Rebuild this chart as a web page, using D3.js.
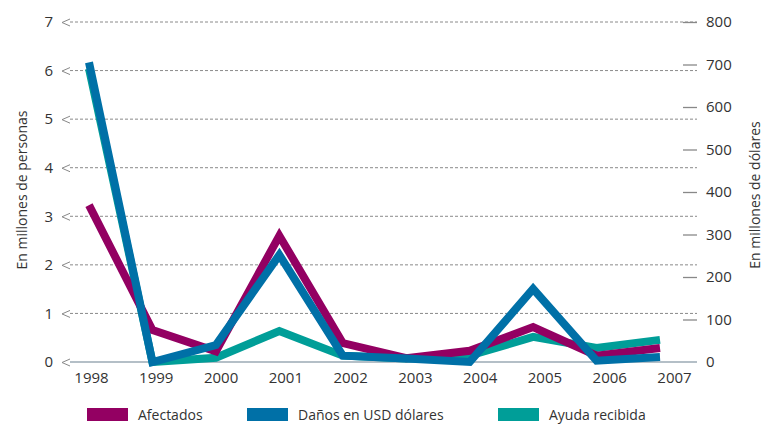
<!DOCTYPE html>
<html><head><meta charset="utf-8">
<script src="https://cdn.jsdelivr.net/npm/d3@7"></script>
<style>body{margin:0;background:#fff}text{font-family:"Open Sans",sans-serif}</style>
</head><body><svg id="c" width="766" height="428"></svg>
<script>
const years = ["1998","1999","2000","2001","2002","2003","2004","2005","2006","2007"];
const afectados = [3.23,0.66,0.22,2.6,0.39,0.08,0.23,0.72,0.13,0.29];
const danos = [705,0,40,252,15,8,0,172,3,12];
const ayuda = [690,0,10,73,15,8,15,59,33,52];
const leftTicks = [0,1,2,3,4,5,6,7];
const rightTicks = [0,100,200,300,400,500,600,700,800];
const seriesNames = ["Afectados","Daños en USD dólares","Ayuda recibida"];
const colors = ["#930062","#0070a7","#009e98"];

const svg = d3.select("#c");
const x = d3.scalePoint().domain(years).range([89,660]);
const xLab = d3.scalePoint().domain(years).range([91,674]);
const yL = d3.scaleLinear().domain([0,7]).range([362,22]);
const yR = d3.scaleLinear().domain([0,800]).range([362,22]);

// gridlines
svg.append("g").selectAll("line").data(leftTicks.filter(d=>d>0)).join("line")
  .attr("x1",70).attr("x2",697).attr("y1",d=>yL(d)).attr("y2",d=>yL(d))
  .attr("stroke","#8a8a8a").attr("stroke-width",1).attr("stroke-dasharray","3,2");
// baseline
svg.append("line").attr("x1",70).attr("x2",697).attr("y1",yL(0)).attr("y2",yL(0))
  .attr("stroke","#6b8090").attr("stroke-width",1.2);

// left axis
const gl = svg.append("g").attr("transform","translate(70,0)")
  .call(d3.axisLeft(yL).tickValues(leftTicks).tickFormat(d3.format("d")).tickSize(0).tickPadding(17));
gl.select(".domain").remove();
gl.selectAll("text").attr("font-size",15).attr("fill","#333").attr("font-family","Open Sans");
gl.selectAll(".tick").append("path").attr("d","M0,-3.5L-8,0L0,3.5").attr("fill","none").attr("stroke","#888").attr("stroke-width",1);

// right axis
const gr = svg.append("g").attr("transform","translate(697,0)")
  .call(d3.axisRight(yR).tickValues(rightTicks).tickSize(0).tickPadding(9));
gr.select(".domain").remove();
gr.selectAll("text").attr("font-size",15).attr("fill","#333").attr("font-family","Open Sans");
gr.selectAll(".tick").filter(d=>d>0).append("line").attr("x1",-14).attr("x2",0).attr("stroke","#888").attr("stroke-width",1.3);

// x axis
const gx = svg.append("g").attr("transform","translate(0,362)")
  .call(d3.axisBottom(xLab).tickSize(0).tickPadding(10));
gx.select(".domain").remove();
gx.selectAll("text").attr("font-size",15).attr("fill","#333").attr("font-family","Open Sans");

// axis titles
svg.append("text").attr("transform","translate(27,190) rotate(-90)").attr("text-anchor","middle")
  .attr("font-size",14).attr("fill","#333").text("En millones de personas");
svg.append("text").attr("transform","translate(760,195) rotate(-90)").attr("text-anchor","middle")
  .attr("font-size",14).attr("fill","#333").text("En millones de dólares");

// lines
const lineL = d3.line().x((d,i)=>x(years[i])).y(d=>yL(d));
const lineR = d3.line().x((d,i)=>x(years[i])).y(d=>yR(d));
const g = svg.append("g").attr("fill","none").attr("stroke-width",8).attr("stroke-linejoin","miter");
g.append("path").attr("d",lineR(ayuda)).attr("stroke",colors[2]);
g.append("path").attr("d",lineL(afectados)).attr("stroke",colors[0]);
g.append("path").attr("d",lineR(danos)).attr("stroke",colors[1]);

// legend
const legX = [87,247,498];
const lg = svg.append("g").selectAll("g").data(seriesNames).join("g")
  .attr("transform",(d,i)=>`translate(${legX[i]},408)`);
lg.append("rect").attr("width",41).attr("height",13).attr("fill",(d,i)=>colors[i]);
lg.append("text").attr("x",51).attr("y",12).attr("font-size",14).attr("fill","#333").text(d=>d);
</script></body></html>
